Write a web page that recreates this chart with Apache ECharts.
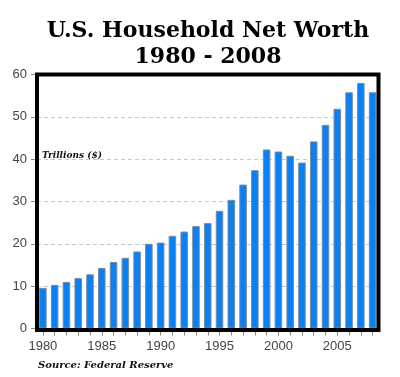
<!DOCTYPE html>
<html>
<head>
<meta charset="utf-8">
<script src="https://cdn.jsdelivr.net/npm/echarts@6/dist/echarts.min.js"></script>
<style>
  html, body { margin: 0; padding: 0; background: #fff; }
  #chart { width: 400px; height: 377px; }
</style>
</head>
<body>
<div id="chart"></div>
<script>
  // years on the x axis
  var years = ['1980', '1981', '1982', '1983', '1984', '1985', '1986', '1987', '1988', '1989',
    '1990', '1991', '1992', '1993', '1994', '1995', '1996', '1997', '1998', '1999',
    '2000', '2001', '2002', '2003', '2004', '2005', '2006', '2007', '2008'];
  // net worth, trillions of dollars
  var netWorth = [9.6, 10.3, 11.0, 11.9, 12.8, 14.3, 15.7, 16.7, 18.2, 20.0,
    20.3, 21.9, 22.9, 24.2, 24.9, 27.8, 30.4, 34.0, 37.4, 42.3,
    41.8, 40.8, 39.2, 44.2, 48.1, 51.9, 55.8, 58.0, 55.8];
  var yTicks = [0, 10, 20, 30, 40, 50, 60];

  var W = 400, H = 377;
  var gLeft = 37, gRight = 21.5, gTop = 74.5, gBottom = 48.5;

  var chart = echarts.init(document.getElementById('chart'));
  var option = {
    animation: false,
    backgroundColor: '#fff',
    title: [{
      text: 'U.S. Household Net Worth\n1980 - 2008',
      left: 203,
      top: 13,
      textAlign: 'center',
      textStyle: {
        fontFamily: 'DejaVu Serif',
        fontWeight: 'bold',
        fontSize: 22,
        lineHeight: 26,
        color: '#000'
      }
    }, {
      text: 'Trillions ($)',
      left: 37,
      top: 146,
      textStyle: {
        fontFamily: 'DejaVu Serif',
        fontStyle: 'italic',
        fontWeight: 'bold',
        fontSize: 9,
        color: '#111'
      }
    }, {
      text: 'Source: Federal Reserve',
      left: 33,
      top: 355,
      textStyle: {
        fontFamily: 'DejaVu Serif',
        fontStyle: 'italic',
        fontWeight: 'bold',
        fontSize: 10,
        color: '#111'
      }
    }],
    grid: {
      left: gLeft,
      right: gRight,
      top: gTop,
      bottom: gBottom,
      show: false,
      containLabel: false
    },
    // frame drawn above the bars and grid lines
    graphic: [{
      type: 'rect',
      z: 100,
      silent: true,
      shape: { x: gLeft, y: gTop, width: W - gLeft - gRight, height: H - gTop - gBottom + 1.5 },
      style: { fill: null, stroke: '#000', lineWidth: 4 }
    }],
    xAxis: {
      type: 'category',
      data: years,
      axisLine: { show: false },
      axisTick: {
        show: true,
        alignWithLabel: true,
        interval: 0,
        length: 7,
        lineStyle: { color: '#888' }
      },
      axisLabel: {
        interval: 4,
        margin: 11,
        fontFamily: 'Liberation Sans',
        fontSize: 13,
        color: '#444'
      }
    },
    yAxis: {
      type: 'value',
      min: yTicks[0],
      max: yTicks[yTicks.length - 1],
      interval: 10,
      axisLine: { show: false },
      axisTick: { show: true, length: 6, lineStyle: { color: '#888' } },
      axisLabel: {
        margin: 10,
        fontFamily: 'Liberation Sans',
        fontSize: 13,
        color: '#444'
      },
      splitLine: {
        lineStyle: { color: '#c8c8c8', type: [4, 3], width: 1 }
      }
    },
    series: [{
      type: 'bar',
      data: netWorth,
      barCategoryGap: '36%',
      itemStyle: {
        color: '#0a80f5',
        borderColor: '#7a8a9c',
        borderWidth: 1
      }
    }]
  };
  chart.setOption(option);
</script>
</body>
</html>
